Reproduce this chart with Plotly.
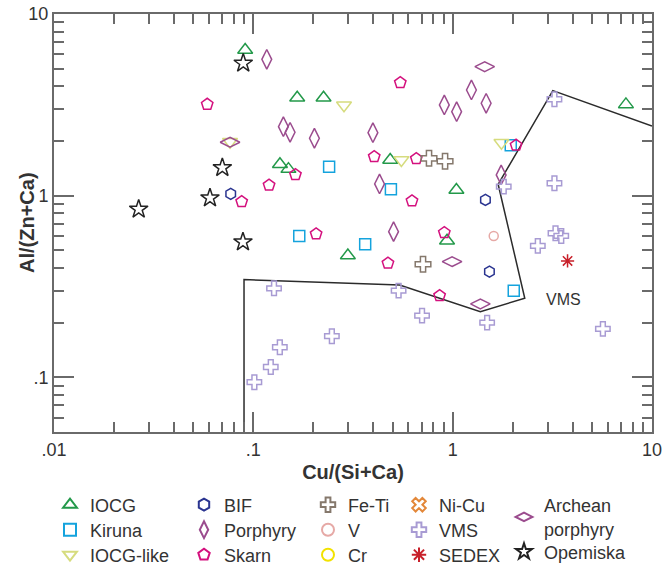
import math
import plotly.graph_objects as go

# ---- data ----
iocg_x = [0.091, 0.166, 0.225, 0.136, 0.150, 0.486, 1.044, 0.937, 0.298, 7.40]
iocg_y = [6.34, 3.46, 3.46, 1.49, 1.40, 1.57, 1.075, 0.565, 0.468, 3.18]

kiruna_x = [0.240, 0.170, 0.364, 0.490, 1.956, 2.025]
kiruna_y = [1.444, 0.600, 0.540, 1.084, 1.894, 0.300]

iocglike_x = [0.285, 0.0764, 0.553, 1.757]
iocglike_y = [3.145, 1.982, 1.573, 1.957]

bif_x = [0.077, 1.46, 1.529]
bif_y = [1.022, 0.947, 0.382]

porphyry_x = [0.1168, 0.1415, 0.1529, 0.2025, 0.398, 0.908, 1.047, 1.242, 1.472, 0.4297, 1.751, 0.5053]
porphyry_y = [5.63, 2.397, 2.233, 2.07, 2.222, 3.157, 2.899, 3.817, 3.225, 1.160, 1.30, 0.6336]

skarn_x = [0.0587, 0.1626, 0.1199, 0.0874, 0.2065, 0.546, 0.404, 0.657, 2.08, 0.625, 0.908, 0.4735, 0.860]
skarn_y = [3.184, 1.305, 1.141, 0.927, 0.6155, 4.186, 1.639, 1.598, 1.894, 0.935, 0.626, 0.4246, 0.2816]

feti_x = [0.761, 0.916, 0.710]
feti_y = [1.606, 1.547, 0.4193]

v_x = [1.607]
v_y = [0.600]

cr_x = []
cr_y = []

nicu_x = []
nicu_y = []

vms_x = [3.24, 1.804, 3.24, 3.28, 3.505, 2.674, 0.5355, 0.702, 1.489, 5.67, 0.127, 0.2477, 0.1358, 0.1223, 0.1012]
vms_y = [3.393, 1.121, 1.17, 0.621, 0.600, 0.529, 0.300, 0.2186, 0.20, 0.1847, 0.309, 0.1684, 0.1464, 0.114, 0.094]

sedex_x = [3.77]
sedex_y = [0.437]

archean_x = [1.448, 0.0764, 0.993, 1.377]
archean_y = [5.13, 1.967, 0.4334, 0.2535]

opemiska_x = [0.089, 0.0699, 0.0606, 0.0266, 0.0887]
opemiska_y = [5.355, 1.426, 0.971, 0.842, 0.556]

vms_field_x = [0.0898, 0.0898, 0.542, 1.377, 2.30, 1.691, 3.18, 10.0]
vms_field_y = [0.04, 0.345, 0.3225, 0.230, 0.2725, 1.155, 3.785, 2.418]

x_tickvals = [0.01, 0.1, 1, 10]
x_ticktext = [".01", ".1", "1", "10"]
y_tickvals = [0.1, 1, 10]
y_ticktext = [".1", "1", "10"]

FONT = "Arial, Liberation Sans, sans-serif"
AX = "#6a6a6a"
TXT = "#333333"

# figure geometry (pixels)
W, H = 670, 566
ML, MR, MT, MB = 54, 18, 14, 134
PW, PH = W - ML - MR, H - MT - MB


def px_to_paper_x(px):
    return (px - ML) / PW


def px_to_paper_y(py):
    return (H - MB - py) / PH


fig = go.Figure()

# VMS field outline
fig.add_trace(go.Scatter(x=vms_field_x, y=vms_field_y, mode="lines",
                         line=dict(color="#2b2b2b", width=1.5),
                         showlegend=False, hoverinfo="skip"))

# name, x, y, symbol, colour, size, legend column text-left px, legend row centre px
series = [
    ("IOCG", iocg_x, iocg_y, "triangle-up-open", "#23994a", 13, 90, 505),
    ("Kiruna", kiruna_x, kiruna_y, "square-open", "#14a3dd", 11, 90, 530),
    ("IOCG-like", iocglike_x, iocglike_y, "triangle-down-open", "#d6dc7e", 13, 90, 555),
    ("BIF", bif_x, bif_y, "hexagon-open", "#2a3490", 11, 224, 505),
    ("Porphyry", porphyry_x, porphyry_y, "diamond-tall-open", "#9b4c8e", 14, 224, 530),
    ("Skarn", skarn_x, skarn_y, "pentagon-open", "#d4117e", 12, 224, 555),
    ("Fe-Ti", feti_x, feti_y, "cross-open", "#85786c", 13, 348, 505),
    ("V", v_x, v_y, "circle-open", "#e6a9a6", 9, 348, 530),
    ("Cr", cr_x, cr_y, "circle-open", "#f2e200", 9, 348, 555),
    ("Ni-Cu", nicu_x, nicu_y, "x-open", "#e3883a", 11, 439, 505),
    ("VMS", vms_x, vms_y, "cross-open", "#a89bd3", 12, 439, 530),
    ("SEDEX", sedex_x, sedex_y, "asterisk-open", "#c8202a", 11, 439, 555),
    ("Archean<br>porphyry", archean_x, archean_y, "diamond-wide-open", "#9b4c8e", 14, 544, 517),
    ("Opemiska", opemiska_x, opemiska_y, "star-open", "#222222", 14, 544, 552),
]

leg_common = dict(orientation="v", xanchor="left", yanchor="middle", bgcolor="rgba(0,0,0,0)",
                  font=dict(family=FONT, size=18, color=TXT), tracegroupgap=0,
                  itemsizing="constant", itemclick=False, itemdoubleclick=False)
legend_layouts = {}
for i, (name, xs, ys, sym, col, size, tx, ty) in enumerate(series):
    key = "legend" if i == 0 else f"legend{i + 1}"
    fig.add_trace(go.Scatter(
        x=xs if xs else [None], y=ys if ys else [None], mode="markers", name=name,
        marker=dict(symbol=sym, size=size, color=col, line=dict(color=col, width=1.5)),
        legend=key, showlegend=True))
    legend_layouts[key] = dict(**leg_common, x=px_to_paper_x(tx - 40), y=px_to_paper_y(ty))

fig.add_annotation(x=math.log10(3.61), y=math.log10(0.2667), xref="x", yref="y", text="VMS",
                   showarrow=False, font=dict(family=FONT, size=16, color=TXT))

# y-axis title as rotated text
fig.add_annotation(x=px_to_paper_x(27), y=0.5, xref="paper", yref="paper", text="<b>Al/(Zn+Ca)</b>",
                   xanchor="center", yanchor="middle",
                   textangle=-90, showarrow=False, font=dict(family=FONT, size=20, color=TXT))

axis_common = dict(
    type="log", showgrid=False, zeroline=False,
    showline=True, linecolor=AX, linewidth=2, mirror="allticks",
    ticks="inside", ticklen=20, tickwidth=1.5, tickcolor=AX,
    tickfont=dict(family=FONT, size=18, color=TXT),
    minor=dict(dtick="D1", ticks="inside", ticklen=10, tickwidth=1.5, tickcolor=AX, showgrid=False),
)

fig.update_xaxes(**axis_common, range=[-2, 1], tickmode="array", tickvals=x_tickvals, ticktext=x_ticktext,
                 title=dict(text="<b>Cu/(Si+Ca)</b>", font=dict(family=FONT, size=20, color=TXT),
                            standoff=6))
fig.update_yaxes(**axis_common, range=[math.log10(0.05), 1], tickmode="array", tickvals=y_tickvals,
                 ticktext=y_ticktext)

fig.update_layout(
    width=W, height=H,
    margin=dict(l=ML, r=MR, t=MT, b=MB, autoexpand=False),
    paper_bgcolor="white", plot_bgcolor="white",
    **legend_layouts,
)

fig.write_html("out.html", config={"displayModeBar": False},
               post_script="document.body.style.margin='0px';document.body.style.padding='0px';")
